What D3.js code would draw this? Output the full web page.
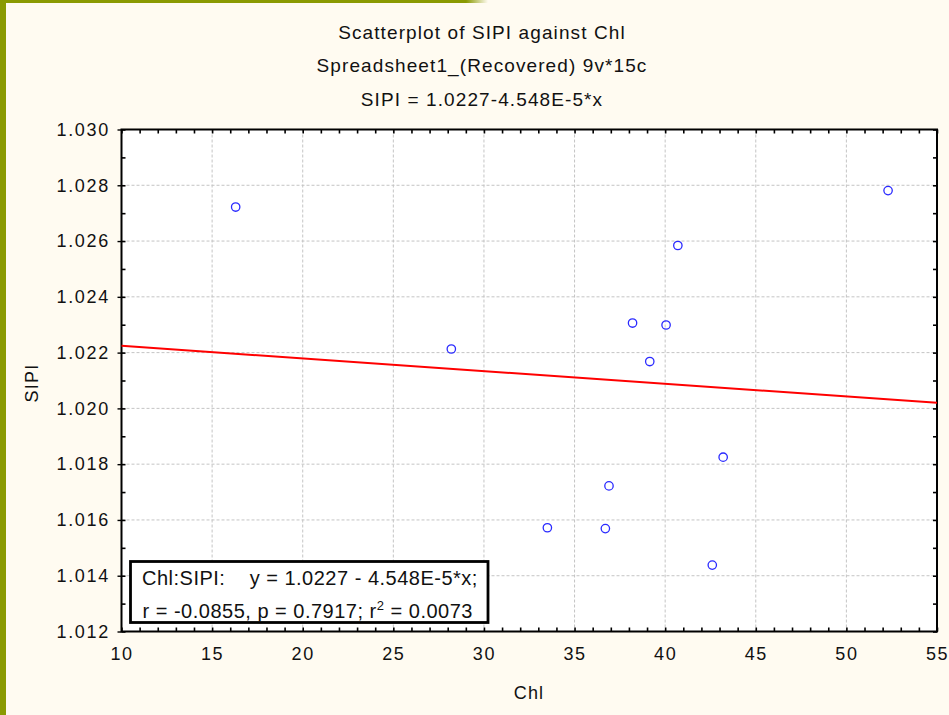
<!DOCTYPE html>
<html>
<head>
<meta charset="utf-8">
<script src="https://cdn.jsdelivr.net/npm/d3@7"></script>
<style>
  html, body { margin: 0; padding: 0; background: #fffbf1; }
  svg { display: block; }
  text { font-family: "Liberation Sans", Arial, sans-serif; fill: #111; }
</style>
</head>
<body>
<svg id="chart" width="949" height="715"></svg>
<script>
// ---- data ----
const chlValues  = [16.3, 28.2, 33.5, 36.7, 36.9, 38.2, 39.15, 40.05, 40.7, 42.6, 43.2, 52.3];
const sipiValues = [1.02722, 1.02213, 1.01572, 1.01569, 1.01722, 1.02306, 1.02168, 1.02299, 1.02584, 1.01438, 1.01825, 1.02781];
const xTicks = [10, 15, 20, 25, 30, 35, 40, 45, 50, 55];
const yTicks = [1.012, 1.014, 1.016, 1.018, 1.020, 1.022, 1.024, 1.026, 1.028, 1.030];
const fitIntercept = 1.0227;
const fitSlope = -4.548e-5;
const titleLines = ["Scatterplot of SIPI against Chl", "Spreadsheet1_(Recovered) 9v*15c", "SIPI = 1.0227-4.548E-5*x"];
const legendLine1 = "Chl:SIPI:    y = 1.0227 - 4.548E-5*x;";
const xLabel = "Chl", yLabel = "SIPI";

const svg = d3.select("#chart");
const W = 949, H = 715;
const FONT = "Liberation Sans, Arial, sans-serif";

// background decorations
svg.append("rect").attr("width", W).attr("height", H).attr("fill", "#fffbf1");
const grad = svg.append("defs").append("linearGradient").attr("id", "topg")
  .attr("x1", "0").attr("x2", "1").attr("y1", "0").attr("y2", "0");
grad.append("stop").attr("offset", "0").attr("stop-color", "#8a9a02");
grad.append("stop").attr("offset", "0.955").attr("stop-color", "#8a9a02");
grad.append("stop").attr("offset", "1").attr("stop-color", "#fffbf1");
svg.append("rect").attr("x", 0).attr("y", 0).attr("width", 488).attr("height", 3).attr("fill", "url(#topg)");
svg.append("rect").attr("x", 0).attr("y", 0).attr("width", 6).attr("height", H).attr("fill", "#8a9a02");

const L = 121.5, R = 937, T = 129.5, B = 631.5;
const x = d3.scaleLinear().domain([10, 55]).range([L, R]);
const y = d3.scaleLinear().domain([1.012, 1.030]).range([B, T]);

// plot background
svg.append("rect").attr("x", L).attr("y", T).attr("width", R - L).attr("height", B - T).attr("fill", "#fff");

// grid
const grid = svg.append("g");
grid.selectAll("line.vx").data(xTicks.slice(1, -1)).enter().append("line")
  .attr("x1", d => x(d)).attr("x2", d => x(d)).attr("y1", T).attr("y2", B)
  .attr("stroke", "#c4c4c4").attr("stroke-width", 1).attr("stroke-dasharray", "3,2");
grid.selectAll("line.hy").data(yTicks.slice(1, -1)).enter().append("line")
  .attr("x1", L).attr("x2", R).attr("y1", d => y(d)).attr("y2", d => y(d))
  .attr("stroke", "#c4c4c4").attr("stroke-width", 1).attr("stroke-dasharray", "3,2");

// minor/inner ticks
const minorX = d3.range(10, 56, 1);
const minorY = d3.range(0, 19).map(i => 1.012 + i * 0.001);
function styleAxis(g) {
  g.select(".domain").remove();
  g.selectAll(".tick line").attr("stroke", "#000").attr("stroke-width", 1.6);
}
svg.append("g").attr("transform", `translate(0,${B})`)
  .call(d3.axisBottom(x).tickValues(minorX).tickSize(-4).tickFormat(""))
  .call(styleAxis);
svg.append("g").attr("transform", `translate(0,${T})`)
  .call(d3.axisTop(x).tickValues(minorX).tickSize(-4).tickFormat(""))
  .call(styleAxis);
svg.append("g").attr("transform", `translate(${L},0)`)
  .call(d3.axisLeft(y).tickValues(minorY).tickSize(-4).tickFormat(""))
  .call(styleAxis);
svg.append("g").attr("transform", `translate(${R},0)`)
  .call(d3.axisRight(y).tickValues(minorY).tickSize(-4).tickFormat(""))
  .call(styleAxis);

// labeled axes
const xAxisG = svg.append("g").attr("transform", `translate(0,${B})`)
  .call(d3.axisBottom(x).tickValues(xTicks).tickSize(0).tickPadding(15.5).tickFormat(d3.format("d")));
xAxisG.select(".domain").remove();
xAxisG.selectAll("text").attr("font-size", 18).attr("letter-spacing", "1.6px")
  .attr("font-family", FONT).attr("fill", "#111");

const yAxisG = svg.append("g").attr("transform", `translate(${L},0)`)
  .call(d3.axisLeft(y).tickValues(yTicks).tickSize(4).tickPadding(7.5).tickFormat(d3.format(".3f")));
yAxisG.select(".domain").remove();
yAxisG.selectAll(".tick line").attr("stroke", "#000").attr("stroke-width", 1.4);
yAxisG.selectAll("text").attr("font-size", 18).attr("letter-spacing", "1.7px")
  .attr("font-family", FONT).attr("fill", "#111");

// frame
svg.append("rect").attr("x", L).attr("y", T).attr("width", R - L).attr("height", B - T)
  .attr("fill", "none").attr("stroke", "#000").attr("stroke-width", 2);

// regression line
svg.append("line")
  .attr("x1", x(10)).attr("y1", y(fitIntercept + fitSlope * 10))
  .attr("x2", x(55)).attr("y2", y(fitIntercept + fitSlope * 55))
  .attr("stroke", "#ff0000").attr("stroke-width", 2);

// points
svg.selectAll("circle.pt").data(chlValues.map((c, i) => [c, sipiValues[i]])).enter().append("circle")
  .attr("cx", d => x(d[0])).attr("cy", d => y(d[1])).attr("r", 4.2)
  .attr("fill", "none").attr("stroke", "#2a2aff").attr("stroke-width", 1.3);

// titles
const titleY = [38.5, 72, 106];
titleLines.forEach((t, i) => {
  svg.append("text").attr("x", 482).attr("y", titleY[i]).attr("text-anchor", "middle")
    .attr("font-size", 19).attr("letter-spacing", "1.1px").text(t);
});

// axis titles
svg.append("text").attr("x", 529).attr("y", 699).attr("text-anchor", "middle")
  .attr("font-size", 18).attr("letter-spacing", "1.2px").text(xLabel);
svg.append("text").attr("transform", "translate(38,383) rotate(-90)").attr("text-anchor", "middle")
  .attr("font-size", 18).attr("letter-spacing", "1.2px").text(yLabel);

// legend box
const lg = svg.append("g");
lg.append("rect").attr("x", 130.5).attr("y", 561.5).attr("width", 357.5).attr("height", 61)
  .attr("fill", "#fff").attr("stroke", "#000").attr("stroke-width", 2.8);
lg.append("text").attr("x", 142).attr("y", 584.5).attr("font-size", 20).attr("letter-spacing", "0.5px")
  .attr("xml:space", "preserve").style("white-space", "pre").text(legendLine1);
const l2 = lg.append("text").attr("x", 142.5).attr("y", 617.5).attr("font-size", 20).attr("letter-spacing", "0.5px");
l2.append("tspan").text("r = -0.0855, p = 0.7917; r");
l2.append("tspan").attr("font-size", 13).attr("dy", -8).text("2");
l2.append("tspan").attr("dy", 8).text(" = 0.0073");
</script>
</body>
</html>
